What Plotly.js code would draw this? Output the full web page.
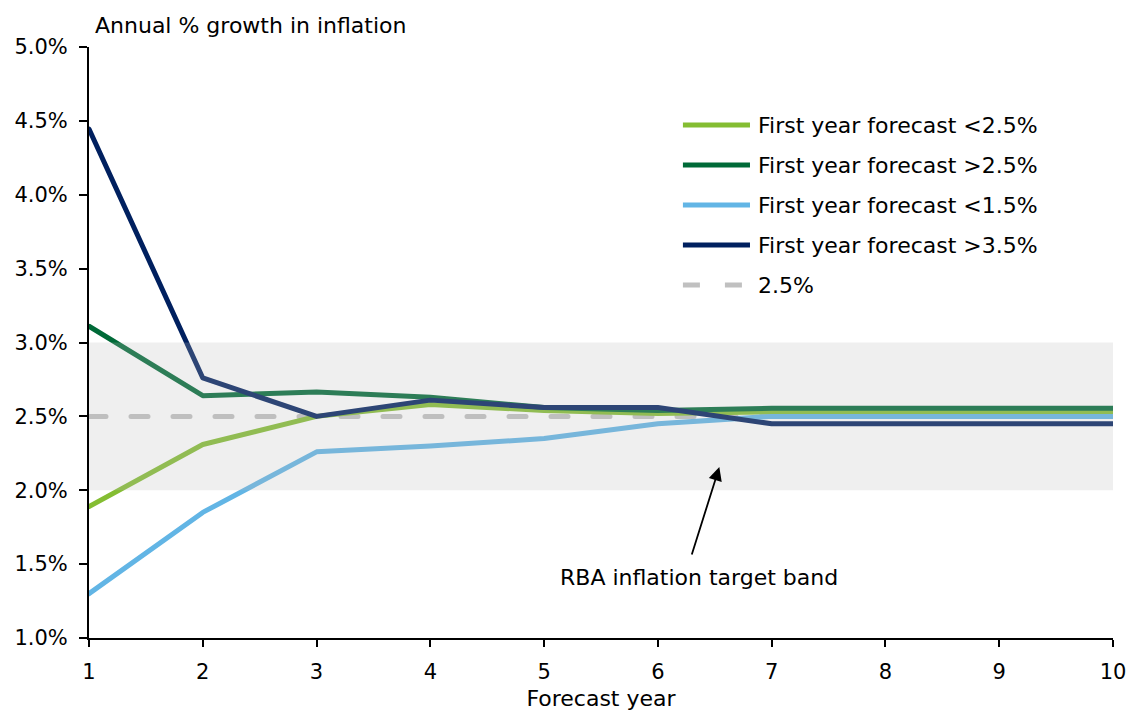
<!DOCTYPE html>
<html><head><meta charset="utf-8">
<script src="https://cdn.plot.ly/plotly-3.0.1.min.js"></script>
<style>body{margin:0;background:#fff}#c{width:1130px;height:711px}
#c path.js-line{stroke-linecap:round !important;stroke-linejoin:round !important}</style>
</head><body><div id="c"></div>
<script>
const years = [1,2,3,4,5,6,7,8,9,10];
const below25 = [1.89,2.31,2.50,2.58,2.54,2.52,2.53,2.53,2.53,2.53];
const above25 = [3.11,2.64,2.665,2.63,2.56,2.54,2.555,2.555,2.555,2.555];
const below15 = [1.30,1.85,2.26,2.30,2.35,2.45,2.50,2.50,2.50,2.50];
const above35 = [4.445,2.76,2.50,2.61,2.56,2.56,2.45,2.45,2.45,2.45];
const target = [2.5,2.5,2.5,2.5,2.5,2.5,2.5,2.5,2.5,2.5];
const seriesNames = ["First year forecast <2.5%","First year forecast >2.5%","First year forecast <1.5%","First year forecast >3.5%","2.5%"];
const seriesColors = ['#84bd32','#006a38','#62b5e5','#00205f','#c0c0c0'];
const bandLow = 2.0, bandHigh = 3.0;
const yTicks = [1.0,1.5,2.0,2.5,3.0,3.5,4.0,4.5,5.0];

const F = "DejaVu Sans, Verdana, sans-serif";
const DASH = '17px,25px';
const mk = (y, i, dash) => ({x: years, y: y, name: seriesNames[i], type:'scatter', mode:'lines',
  line:{color:seriesColors[i], width:5, dash:dash||'solid'}, showlegend:false, hoverinfo:'x+y'});
const traces = [
  mk(target, 4, DASH),
  mk(below25, 0),
  mk(above25, 1),
  mk(below15, 2),
  mk(above35, 3)
];

// custom legend (positions in paper coords)
const legX0 = 0.580, legX1 = 0.6455, legTextX = 0.6514, legY0 = 0.868, legDY = 0.0677;
const legendShapes = seriesNames.map((n,i) => ({type:'line', xref:'paper', yref:'paper',
  x0:legX0, x1:legX1, y0:legY0 - i*legDY, y1:legY0 - i*legDY,
  line:{color:seriesColors[i], width:5, dash: i===4 ? DASH : 'solid'}}));
const legendTexts = seriesNames.map((n,i) => ({xref:'paper', yref:'paper', x:legTextX, y:legY0 - i*legDY,
  xanchor:'left', yanchor:'middle', showarrow:false, text:n, font:{family:F, size:22, color:'#000'}}));

const layout = {
  width:1130, height:711,
  margin:{l:89, r:17, t:47, b:73},
  paper_bgcolor:'#fff', plot_bgcolor:'#fff',
  font:{family:F, size:22, color:'#000'},
  showlegend:false,
  xaxis:{range:[1,10], tickvals:years, ticktext:years.map(String), showgrid:false, zeroline:false,
    showline:true, linecolor:'#000', linewidth:2, ticks:'outside', ticklen:7, tickwidth:2, tickcolor:'#000',
    tickfont:{family:F, size:21}, ticklabelstandoff:7,
    title:{text:'Forecast year', font:{family:F, size:22}, standoff:12}},
  yaxis:{range:[1.0,5.0], tickvals:yTicks, ticktext:yTicks.map(v=>v.toFixed(1)+'%'), showgrid:false, zeroline:false,
    showline:true, linecolor:'#000', linewidth:2, ticks:'outside', ticklen:8, tickwidth:2, tickcolor:'#000',
    tickfont:{family:F, size:21}, ticklabelstandoff:7},
  shapes:[{type:'rect', xref:'x', yref:'y', x0:1, x1:10, y0:bandLow, y1:bandHigh, layer:'above',
    fillcolor:'rgba(189,189,189,0.24)', line:{width:0}}].concat(legendShapes),
  annotations:[
    {xref:'paper', yref:'paper', x:0.0035, y:1.012, xanchor:'left', yanchor:'bottom', showarrow:false,
     text:'Annual % growth in inflation', font:{family:F, size:22}},
    {xref:'x', yref:'y', x:6.54, y:2.157, ax:-28, ay:89, text:'', showarrow:true,
     arrowhead:2, arrowsize:1.5, arrowwidth:1.8, arrowcolor:'#000'},
    {xref:'x', yref:'y', x:6.36, y:1.41, showarrow:false, text:'RBA inflation target band',
     xanchor:'center', yanchor:'middle', font:{family:F, size:22}}
  ].concat(legendTexts)
};
Plotly.newPlot('c', traces, layout, {displayModeBar:false});
</script></body></html>
